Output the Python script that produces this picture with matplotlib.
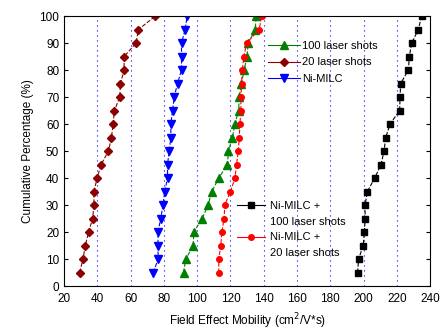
import numpy as np
import matplotlib.pyplot as plt
from matplotlib.lines import Line2D

plt.rcParams['font.family'] = ['Liberation Sans', 'DejaVu Sans']

pct = [5, 10, 15, 20, 25, 30, 35, 40, 45, 50, 55, 60, 65, 70, 75, 80, 85, 90, 95, 100]

shots20 = [29.4, 31.4, 32.8, 34.8, 37.2, 38.0, 38.0, 39.9, 42.3, 46.7,
           48.5, 49.5, 50.3, 53.5, 53.9, 56.1, 56.1, 63.3, 64.7, 74.9]
ni_milc = [73.7, 76.5, 76.5, 76.5, 78.1, 79.5, 80.5, 82.2, 82.2, 83.2,
           84.2, 84.2, 85.2, 86.2, 88.2, 90.6, 90.6, 90.6, 92.8, 94.0]
shots100 = [91.8, 93.2, 97.6, 98.0, 103.0, 106.6, 108.8, 113.0, 118.2, 118.8,
            121.2, 122.7, 124.9, 125.3, 126.5, 128.3, 129.9, 130.7, 134.9, 135.5]
ni_20 = [113.0, 113.0, 114.2, 114.8, 116.2, 116.6, 120.0, 122.7, 123.7, 124.7,
         125.3, 125.7, 126.3, 126.3, 126.7, 127.1, 128.1, 129.7, 137.3, 138.7]
ni_100 = [196.4, 197.0, 199.8, 200.5, 200.9, 200.9, 202.3, 206.7, 210.5, 212.3,
          213.3, 215.9, 221.7, 221.9, 222.3, 226.9, 227.5, 228.9, 232.9, 234.9]

fig = plt.figure(figsize=(4.43, 3.34), dpi=100)
ax = fig.add_axes([0.1445, 0.1437, 0.8265, 0.8083])

# vertical dotted grid
for gx in range(40, 240, 20):
    ax.axvline(gx, color='blue', linestyle=(0, (1, 3.5)), linewidth=0.8, zorder=0)

ms_tri = 5.8
ms_sm = 4
ax.plot(shots20, pct, '--', color='#8b0000', marker='D', markersize=ms_sm, linewidth=0.8)
ax.plot(ni_milc, pct, '--', color='blue', marker='v', markersize=ms_tri, linewidth=0.8)
ax.plot(shots100, pct, '--', color='green', marker='^', markersize=ms_tri, linewidth=0.8)
ax.plot(ni_20, pct, '--', color='red', marker='o', markersize=ms_sm, linewidth=0.8)
ax.plot(ni_100, pct, '--', color='black', marker='s', markersize=ms_sm, linewidth=0.8)

ax.set_xlim(20, 240)
ax.set_ylim(0, 100)
ax.set_xticks(range(20, 241, 20))
ax.set_yticks(range(0, 101, 10))
ax.tick_params(direction='in', labelsize=8.5, length=3, right=True, top=False)
ax.tick_params(axis='x', length=0, pad=5)
ax.set_xlabel('Field Effect Mobility (cm$^2$/V*s)', fontsize=8.5, labelpad=5)
ax.set_ylabel('Cumulative Percentage (%)', fontsize=8.5)

h1 = [Line2D([], [], color='green', marker='^', markersize=ms_tri, linewidth=0.8),
      Line2D([], [], color='#8b0000', marker='D', markersize=ms_sm, linewidth=0.8),
      Line2D([], [], color='blue', marker='v', markersize=ms_tri, linewidth=0.8)]
leg1 = ax.legend(h1, ['100 laser shots', '20 laser shots', 'Ni-MILC'],
                 loc='upper left', bbox_to_anchor=(0.545, 0.925), frameon=False,
                 fontsize=8, handlelength=2.9, handletextpad=0.2,
                 labelspacing=0.6, borderaxespad=0)
ax.add_artist(leg1)

blank = Line2D([], [], color='none')
h2 = [Line2D([], [], color='black', marker='s', markersize=ms_sm, linewidth=0.8), blank,
      Line2D([], [], color='red', marker='o', markersize=ms_sm, linewidth=0.8), blank]
ax.legend(h2, ['Ni-MILC +', '100 laser shots', 'Ni-MILC +', '20 laser shots'],
          loc='upper left', bbox_to_anchor=(0.46, 0.33), frameon=False,
          fontsize=8, handlelength=2.5, handletextpad=0.5,
          labelspacing=0.5, borderaxespad=0)

fig.savefig('out.png', dpi=100)
